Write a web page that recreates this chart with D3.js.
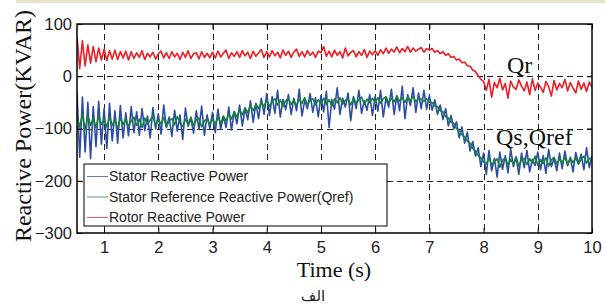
<!DOCTYPE html>
<html>
<head>
<meta charset="utf-8">
<script src="https://cdn.jsdelivr.net/npm/d3@7"></script>
<style>
  body { margin: 0; background: #fff; }
  svg { display: block; }
</style>
</head>
<body>
<svg width="605" height="307"></svg>
<script>
// time axis: samples every 0.05 s starting at 0.5 s
const t0 = 0.5, dt = 0.05;

const xTicks = [1, 2, 3, 4, 5, 6, 7, 8, 9, 10];
const yTicks = [100, 0, -100, -200, -300];

// Rotor reactive power (Qr)
const qr = [
  75, 15, 68, 20, 60, 25, 57, 28, 54, 31,
  52, 30, 49, 33, 50, 32, 47, 35, 48, 31,
  47, 34, 45, 36, 49, 32, 44, 37, 46, 33, 43, 48, 35, 45, 34, 47, 37, 44, 32, 46, 36, 49, 34, 43, 45, 33, 47, 36, 44, 35,
  46, 35, 48, 37, 44, 50, 34, 45, 38, 47, 36, 49, 39, 46, 34, 48, 38, 45, 51, 36,
  47, 37, 49, 39, 46, 35, 50, 40, 48, 36, 46, 52, 38, 47, 37, 49, 40, 46, 36, 48,
  45, 57, 38, 48, 37, 50, 40, 47, 35, 54, 39, 46, 49, 37, 47, 40, 51, 36, 48, 41,
  49, 40, 51, 43, 54, 44, 52, 46, 56, 45, 53, 47, 57, 46, 54, 48, 52, 55, 46, 53,
  50, 53, 46, 49, 43, 47, 40, 43, 36, 38, 31, 33, 26, 27, 20, 19, 12, 9, 1, -6,
  -10, -27, -6, -40, -12, -22, -4, -26, -14, -42, -9, -21, -25, -7, -19, -28, -11, -35, -5, -27,
  -13, -21, -31, -10, -20, -38, -8, -26, -14, -22, -6, -28, -12, -23, -32, -9, -25, -13, -29, -11, -21
];

// Stator reactive power (Qs)
const qs = [
  -30, -155, -40, -145, -50, -158, -58, -135, -48, -130,
  -62, -138, -52, -124, -66, -128, -56, -118, -70, -114,
  -58, -108, -68, -113, -62, -104, -76, -118, -60, -101, -72, -111, -55, -98, -78, -115, -65, -105, -74, -121, -61, -96, -80, -109, -66, -102, -57, -113, -74, -100,
  -69, -108, -63, -101, -77, -98, -59, -103, -67, -91, -55, -95, -62, -83, -47, -88, -52, -81, -42, -73,
  -33, -75, -39, -71, -27, -78, -44, -64, -35, -73, -42, -66, -25, -76, -46, -62, -33, -69, -41, -78,
  -37, -68, -29, -98, -45, -63, -22, -73, -42, -59, -32, -85, -39, -62, -27, -71, -47, -65, -35, -75,
  -39, -67, -27, -78, -42, -59, -25, -73, -37, -66, -19, -81, -35, -56, -22, -69, -32, -62, -27, -63,
  -37, -65, -45, -73, -55, -83, -62, -95, -75, -101, -87, -118, -97, -128, -107, -143, -125, -153, -137, -173,
  -147, -188, -142, -181, -157, -193, -145, -178, -152, -185, -139, -173, -155, -188, -147, -175, -142, -183, -159, -171,
  -145, -179, -152, -186, -140, -173, -157, -181, -147, -177, -143, -171, -155, -183, -146, -168, -149, -179, -137, -175, -152
];

// Stator reference reactive power (Qref)
const qref = [
  -78, -97, -73, -102, -76, -94, -80, -98, -77, -92,
  -82, -97, -78, -94, -84, -100, -80, -92, -83, -96,
  -86, -78, -94, -82, -98, -80, -92, -84, -76, -95, -83, -91, -79, -97, -85, -81, -93, -77, -90, -96, -82, -92, -78, -94, -84, -80, -97, -85, -82, -92,
  -83, -92, -78, -90, -76, -86, -72, -82, -68, -78, -64, -74, -60, -70, -56, -66, -53, -62, -50, -58,
  -46, -57, -48, -43, -55, -45, -58, -47, -42, -54, -46, -56, -44, -52, -41, -54, -47, -43, -55, -45,
  -52, -42, -54, -45, -57, -43, -51, -41, -53, -46, -44, -55, -42, -52, -45, -40, -54, -44, -51, -42,
  -50, -41, -52, -43, -39, -51, -42, -49, -38, -48, -41, -50, -40, -47, -38, -49, -42, -44, -48, -43,
  -50, -50, -57, -58, -66, -68, -77, -80, -88, -90, -100, -103, -112, -116, -124, -128, -138, -143, -152, -156,
  -164, -168, -156, -170, -163, -158, -174, -161, -156, -170, -159, -168, -154, -172, -160, -157, -169, -158, -166, -153,
  -170, -159, -167, -156, -172, -160, -155, -168, -158, -166, -154, -170, -157, -165, -156, -168, -159, -153, -166, -158, -156
];

const series = [
  { name: 'Stator Reactive Power', values: qs, color: '#2d4ca6' },
  { name: 'Stator Reference Reactive Power(Qref)', values: qref, color: '#15803c' },
  { name: 'Rotor Reactive Power', values: qr, color: '#ee1c24' }
];

const svg = d3.select('svg');

// pale strip at the very top of the image
svg.append('rect').attr('x', 16).attr('y', 0).attr('width', 589).attr('height', 3).attr('fill', '#e8e2c6');

const m = { left: 77, right: 592, top: 24, bottom: 233 };
const x = d3.scaleLinear().domain([0.5, 10]).range([m.left, m.right]);
const y = d3.scaleLinear().domain([-300, 100]).range([m.bottom, m.top]);

// grid
const grid = svg.append('g').attr('stroke', '#222').attr('stroke-width', 1).attr('stroke-dasharray', '6,4');
grid.selectAll('line.v').data(xTicks.filter(d => d < 10)).enter().append('line')
  .attr('x1', d => Math.round(x(d)) + 0.5).attr('x2', d => Math.round(x(d)) + 0.5)
  .attr('y1', m.top).attr('y2', m.bottom);
grid.selectAll('line.h').data(yTicks.filter(d => d < 100 && d > -300)).enter().append('line')
  .attr('y1', d => Math.round(y(d)) + 0.5).attr('y2', d => Math.round(y(d)) + 0.5)
  .attr('x1', m.left).attr('x2', m.right);

// lines
svg.append('clipPath').attr('id', 'clip').append('rect')
  .attr('x', m.left).attr('y', m.top).attr('width', m.right - m.left).attr('height', m.bottom - m.top);

const line = d3.line().x((d, i) => x(t0 + i * dt)).y(d => y(d));
svg.append('g').attr('clip-path', 'url(#clip)')
  .selectAll('path').data(series).enter().append('path')
  .attr('d', d => line(d.values))
  .attr('fill', 'none')
  .attr('stroke', d => d.color)
  .attr('stroke-width', 1.6)
  .attr('stroke-linejoin', 'round');

// axes (matlab style, inward ticks, boxed)
const axBottom = d3.axisBottom(x).tickValues(xTicks).tickSize(-5).tickPadding(8).tickFormat(d3.format('d'));
const axLeft = d3.axisLeft(y).tickValues(yTicks).tickSize(-5).tickPadding(5).tickFormat(d3.format('d'));
const axTop = d3.axisTop(x).tickValues(xTicks).tickSize(-5).tickFormat('');
const axRight = d3.axisRight(y).tickValues(yTicks).tickSize(-5).tickFormat('');

function styleAxis(g) {
  g.select('.domain').remove();
  g.selectAll('.tick line').attr('stroke', '#000');
  g.selectAll('text').attr('font-family', 'Liberation Sans, Arial, sans-serif').attr('font-size', 16.5).attr('fill', '#222');
}
svg.append('g').attr('transform', `translate(0,${m.bottom})`).call(axBottom).call(styleAxis);
svg.append('g').attr('transform', `translate(${m.left},0)`).call(axLeft).call(styleAxis);
svg.append('g').attr('transform', `translate(0,${m.top})`).call(axTop).call(styleAxis);
svg.append('g').attr('transform', `translate(${m.right},0)`).call(axRight).call(styleAxis);

svg.append('rect').attr('x', m.left).attr('y', m.top).attr('width', m.right - m.left).attr('height', m.bottom - m.top)
  .attr('fill', 'none').attr('stroke', '#000').attr('stroke-width', 1.5);

// axis titles
svg.append('text').attr('x', 334).attr('y', 277).attr('text-anchor', 'middle')
  .attr('font-family', 'Liberation Serif, Times New Roman, serif').attr('font-size', 22).attr('fill', '#111')
  .text('Time (s)');
svg.append('text').attr('transform', 'translate(31,126) rotate(-90)').attr('text-anchor', 'middle')
  .attr('font-family', 'Liberation Serif, Times New Roman, serif').attr('font-size', 24).attr('fill', '#111')
  .text('Reactive Power(KVAR)');

// curve annotations
const note = svg.append('g').attr('font-family', 'Liberation Serif, Times New Roman, serif').attr('font-size', 24).attr('fill', '#111');
note.append('text').attr('x', 507).attr('y', 73).text('Qr');
note.append('text').attr('x', 496).attr('y', 145).text('Qs,Qref');

// legend
const lg = svg.append('g').attr('transform', 'translate(84,164)');
lg.append('rect').attr('width', 303).attr('height', 62).attr('fill', '#fff').attr('stroke', '#000').attr('stroke-width', 1);
const item = lg.selectAll('g.item').data(series).enter().append('g')
  .attr('transform', (d, i) => `translate(0,${12.5 + i * 20.5})`);
item.append('line').attr('x1', 3).attr('x2', 24).attr('stroke', d => d.color).attr('stroke-width', 1).attr('stroke-opacity', 0.75);
item.append('text').attr('x', 25).attr('dy', '0.35em')
  .attr('font-family', 'Liberation Sans, Arial, sans-serif').attr('font-size', 14).attr('fill', '#222')
  .text(d => d.name);

// sub-caption
svg.append('text').attr('x', 313).attr('y', 301).attr('text-anchor', 'middle')
  .attr('font-family', 'DejaVu Sans, sans-serif').attr('font-size', 15).attr('fill', '#222')
  .text('الف');
</script>
</body>
</html>
